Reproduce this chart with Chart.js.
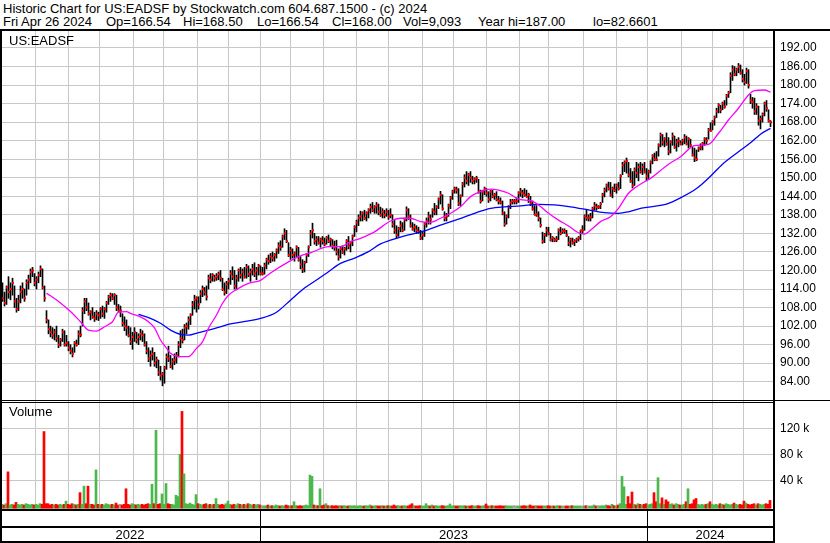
<!DOCTYPE html>
<html>
<head>
<meta charset="utf-8">
<script src="https://cdn.jsdelivr.net/npm/chart.js@4"></script>
<style>
body { margin: 0; background: #fff; }
#wrap { position: relative; width: 830px; height: 543px; overflow: hidden; font-family: "Liberation Sans", Arial, sans-serif; color: #000; }
.t { position: absolute; white-space: pre; font-size: 13px; line-height: 14px; }
.ln { position: absolute; background: #000; }
canvas { position: absolute; left: 0; }
</style>
</head>
<body>
<div id="wrap">
  <div class="t" style="left:3px;top:2px">Historic Chart for US:EADSF by Stockwatch.com 604.687.1500 - (c) 2024</div>
  <div class="t" style="left:3px;top:15px">Fri Apr 26 2024</div>
  <div class="t" style="left:106px;top:15px">Op=166.54</div>
  <div class="t" style="left:183px;top:15px">Hi=168.50</div>
  <div class="t" style="left:257px;top:15px">Lo=166.54</div>
  <div class="t" style="left:332px;top:15px">Cl=168.00</div>
  <div class="t" style="left:403px;top:15px">Vol=9,093</div>
  <div class="t" style="left:478px;top:15px">Year hi=187.00</div>
  <div class="t" style="left:593px;top:15px">lo=82.6601</div>

  <canvas id="price" width="830" height="369" style="top:31px"></canvas>
  <canvas id="volume" width="830" height="142" style="top:401px"></canvas>

  <div class="t" style="left:9px;top:34px">US:EADSF</div>
  <div class="t" style="left:9px;top:405px">Volume</div>

  <div class="ln" style="left:0;top:29px;width:830px;height:2px"></div>
  <div class="ln" style="left:0;top:29px;width:2px;height:514px"></div>
  <div class="ln" style="left:773px;top:29px;width:2px;height:514px"></div>
  <div class="ln" style="left:0;top:400px;width:830px;height:1px"></div>
  <div class="ln" style="left:0;top:402px;width:775px;height:1px"></div>
  <div class="ln" style="left:0;top:509px;width:775px;height:2px"></div>
  <div class="ln" style="left:0;top:526px;width:775px;height:2px"></div>
  <div class="ln" style="left:0;top:541px;width:775px;height:2px"></div>
</div>
<script>
// daily bars (one bar every ~2px)
const hi = [
  116, 113, 115, 118, 116, 117.5, 115, 111, 112, 115,
  116, 114, 117, 118.5, 120.5, 121, 119, 118, 119.5, 121.5,
  120.5, 115, 107, 104, 102, 101.5, 101, 102, 99, 98,
  101, 100.5, 99, 97, 96, 95, 97, 97.5, 100.5, 102,
  108, 111, 111, 109.5, 107, 108, 106.5, 107, 106.5, 108,
  108.5, 108, 110, 112, 112.7, 112.5, 112.5, 112, 109, 108.5,
  106, 105, 104, 102, 101.5, 100, 101.5, 100, 99.5, 101,
  100.5, 99.5, 97, 95, 94, 95, 93.5, 92, 91, 89,
  87, 89, 93, 95.5, 92.5, 91.5, 93, 93.5, 97, 100.5,
  101, 102.5, 103, 105, 106, 110, 112, 111.5, 111.5, 113.5,
  115, 114.5, 115, 118.5, 119, 119, 118.5, 119, 119.5, 120,
  117.5, 116, 116.5, 117.5, 120, 121.2, 120, 118.5, 120.5, 121,
  120.5, 121, 122, 121.5, 120.5, 122, 122.5, 121, 122, 121.5,
  121, 122.4, 124, 125, 125.5, 126, 125.5, 127, 129, 129.6,
  131.5, 133.5, 133, 129, 127.5, 127, 126, 128, 127.5, 124.5,
  123.5, 123, 125.5, 128, 133, 135.3, 132, 131, 131, 130.5,
  131, 130.5, 131, 131.5, 130.5, 130, 129.5, 129.8, 127, 127.5,
  128, 127.5, 130, 131, 129.5, 131.5, 134.5, 136.3, 138, 139.2,
  139, 139.5, 139, 140, 141.5, 142, 141, 142, 141.5, 140.5,
  140, 139.5, 140, 139.5, 140, 138, 136.2, 134.5, 134, 136,
  135.5, 137, 140.6, 140, 138, 135.5, 135, 134.5, 134, 133,
  132.5, 135.5, 137, 138.9, 138, 140, 141.7, 141, 143.5, 145.6,
  144.5, 139, 138.5, 141.5, 144, 146, 147, 147, 146.5, 144.5,
  148.5, 151, 152, 151.5, 152, 150.5, 150, 150.5, 149.5, 146,
  146, 147, 146.5, 145.5, 146, 146, 145, 145.5, 144, 143.5,
  142.5, 139, 138, 141, 143, 143, 143, 143.5, 145.5, 146.6,
  146, 146.5, 146, 145, 144, 142.5, 141, 141, 139, 137,
  132.4, 132, 134, 134, 132, 131, 130.5, 131, 133.5, 134,
  133.5, 133.5, 133, 131, 130.5, 130.5, 130, 130.5, 131, 133,
  134.5, 138, 139.5, 138, 138.5, 140.5, 142, 141.5, 141, 142,
  145, 146.7, 148, 148.6, 148.5, 147, 148, 148, 148.5, 151,
  155, 155.5, 156.4, 155, 153, 152, 153.2, 155, 154.5, 155,
  154.5, 155, 153, 152.5, 155.5, 157.5, 158, 158.5, 161, 164.5,
  164, 163, 164.5, 163, 162, 164.5, 163.5, 162.5, 163, 162,
  162.5, 164, 163.5, 163, 162.5, 160, 159.6, 159, 160, 161,
  161.5, 163, 163, 166, 167.8, 168.5, 170, 172.5, 174, 173.5,
  174.5, 175, 177, 178, 184, 186.3, 186, 185.5, 187, 186.5,
  185, 183.5, 185.5, 185, 177, 176, 175.8, 174, 173.2, 170,
  171, 174.5, 175, 172, 168.5
];
const lo = [
  110, 108.5, 109, 111, 110.5, 112, 108, 106.5, 107, 109.5,
  111, 110, 112, 114, 116, 118, 115, 114, 116, 118,
  114, 110, 103, 99.5, 98.5, 98, 97.5, 97, 95, 95.5,
  97, 95.5, 95.5, 94, 93, 92, 93.5, 95.5, 96, 98.5,
  102, 106, 107, 105.5, 104, 104.5, 103.5, 104, 103.8, 104.5,
  105, 104.5, 106.5, 109, 110, 110.5, 109, 107, 106.5, 105,
  102, 100.5, 99, 98.5, 96, 94.5, 97, 96.5, 96, 97.5,
  97, 95.5, 93, 90.5, 89, 91, 89, 88.5, 86, 84.5,
  82.66, 83.5, 88, 90.5, 88.5, 88, 89.5, 90, 92, 95,
  96.5, 97.5, 99.5, 101, 102.5, 105.5, 107.5, 106.5, 107.5, 109.5,
  111.5, 112, 110.4, 114, 116, 116.5, 116.5, 116.8, 117, 116.5,
  113.5, 112, 112.5, 114, 115.5, 117, 114, 113.7, 116.5, 117.5,
  116.5, 117.5, 117.5, 118, 116.5, 118.5, 118, 117, 118.5, 118.5,
  118.5, 118.8, 120.5, 122, 122.5, 123, 123, 124, 125.5, 126.5,
  127.5, 130, 129, 124.5, 123.6, 124, 123, 124.5, 123, 120.5,
  119.3, 119.5, 122.5, 124.5, 128, 130.5, 128.5, 128, 128.5, 127.5,
  128.5, 128, 128.5, 129, 128, 127, 126.5, 125, 123.3, 124,
  125.5, 125, 126.5, 127, 126, 128, 131, 132.5, 134.5, 136,
  136, 136.5, 136, 137, 138.5, 139, 138.5, 138.5, 138, 137.5,
  137, 137, 137.5, 136.5, 137, 134, 132, 130.5, 131, 132.5,
  132.5, 133, 136, 136.5, 134, 133, 132.5, 132, 132, 130,
  130, 131, 134, 135, 135, 137.2, 138, 138, 140, 141.5,
  139.5, 136, 136, 137.5, 140, 143, 145, 145, 141, 141,
  144, 147, 148, 147.5, 148.5, 148, 148, 148.5, 145, 141.8,
  142.5, 144.5, 144, 142, 142.5, 143.5, 143, 142.5, 141.5, 141.5,
  138, 134.3, 135, 137, 140, 141.5, 141.5, 141.5, 142, 144,
  143.5, 144, 143.7, 142, 141, 139.5, 138, 137.5, 136, 134,
  128.8, 129, 131, 131.5, 129.5, 129.3, 129.3, 129.3, 130, 131.5,
  132, 132, 131, 128, 127.6, 128.5, 128, 129, 129.5, 130,
  132, 133, 136.2, 136, 136, 137, 139.5, 139.5, 140, 140,
  142, 143.8, 145.4, 146, 144, 143.5, 145.5, 145, 146, 146.5,
  151, 152, 151.5, 150.3, 148.5, 146.7, 147.5, 150, 149, 151.5,
  151, 151.5, 149, 149.5, 151.5, 154.5, 155.5, 155.5, 157, 160,
  160.5, 160, 160.5, 157.4, 158, 160.5, 159.5, 158.6, 160, 160.6,
  160.6, 161, 160.6, 159.6, 160, 157, 155.2, 155.5, 158.5, 159,
  159, 160.5, 161, 162.5, 165, 165.5, 167, 169.5, 171, 171,
  172, 172.5, 173.5, 176, 177.5, 181.5, 183, 183, 184, 183.5,
  181, 180, 180.5, 179, 174, 172.5, 170.5, 170.5, 167, 165.8,
  168, 170, 171.5, 168, 166.54
];
const cl = [
  111, 109.5, 114.5, 113, 114, 116, 110, 107.5, 110, 113,
  114, 111, 116, 117, 119.5, 120, 116, 117, 118.5, 120.5,
  114.5, 111, 104, 101, 100, 99, 100, 98, 96, 97.5,
  100, 96, 96.5, 95, 94, 93, 96.5, 96, 99.5, 99.2,
  107, 110, 108, 106, 106.5, 105, 104.5, 106, 105.5, 107.5,
  106, 107.5, 109.5, 111.5, 112, 111, 112, 108, 107, 107,
  103, 102, 101.5, 99, 97, 98.5, 100, 97.5, 98.5, 99.5,
  99, 96, 94, 91.5, 92.5, 93, 90, 91, 87, 86,
  86.5, 88.5, 92, 91.5, 89, 90.5, 91, 92.5, 96, 98,
  97.5, 101.5, 102, 104, 105.5, 109, 110.5, 111, 109, 112.5,
  114, 113, 111.5, 117.5, 117, 118.5, 117.5, 118, 118.8, 117.5,
  114, 113, 115.5, 116.5, 119, 118, 115, 117.5, 120, 118.5,
  119.5, 118, 121, 118.8, 119.5, 120.5, 119, 120, 121.5, 119,
  119, 121.5, 123.5, 123, 124.5, 124, 125, 126.5, 128, 127.5,
  131, 132, 129.5, 125, 126.5, 125, 125.5, 127.5, 123.5, 122,
  120.5, 122.5, 125, 127.5, 132, 133, 129.5, 130, 129, 130,
  129.5, 128.5, 130.5, 129.5, 130, 128, 127.5, 126, 124.5, 127,
  126, 127, 129.5, 128, 129, 131, 134, 135.5, 137, 137.5,
  138.5, 137, 138.5, 139.5, 140.5, 139.5, 140.5, 141, 139, 138,
  139, 138, 139, 137.5, 138, 135, 133, 131.5, 133.5, 134.5,
  133, 136.5, 139.5, 137.5, 134.5, 133.5, 134, 133, 132.5, 130.5,
  131.5, 135, 136, 137.5, 136.5, 139.5, 139, 140.5, 143, 144.5,
  140, 137, 137.5, 141, 143.5, 145.5, 146.5, 146, 141.7, 144,
  148, 150, 149, 151, 150, 149, 149.5, 149.8, 145.5, 142.5,
  145.5, 146.5, 145, 143, 145.5, 144, 144.5, 143, 142.5, 142,
  138.5, 135, 137.5, 140.5, 142, 142.4, 142.4, 142.4, 145, 145.5,
  145, 144.5, 143.8, 144.5, 141.8, 140, 138, 138.2, 137, 134.7,
  129.5, 131.5, 133, 132, 130, 130.5, 129.8, 130, 133, 132,
  132.8, 132.8, 131.5, 129, 130, 129, 129.5, 130, 130.5, 133,
  133, 137.5, 137, 137, 137.2, 140, 141, 140.5, 140.5, 141.5,
  144.5, 146, 147.5, 146.5, 144.5, 146.5, 146, 147.5, 146.5, 150.5,
  154, 155, 155.5, 151, 149, 147.5, 152.5, 151.5, 153.5, 152,
  153.5, 152, 150.5, 152, 155, 157, 156, 155.8, 160.5, 163.8,
  161.5, 162.5, 161, 158.5, 161.5, 163.5, 160, 161.5, 162, 161,
  162, 163, 161, 162.5, 160.5, 157.5, 156.5, 156, 159.5, 159.8,
  161, 162.5, 162, 165.5, 165.2, 168, 169.5, 171.5, 173.5, 172,
  174, 173, 176.5, 177.5, 183, 185, 183.5, 185, 186, 184,
  182, 181, 184.5, 180, 175, 174.5, 171.5, 173, 168.5, 169,
  170.5, 174, 172.5, 168.5, 168
];
// volume in thousands of shares
const volK = [
  3, 2, 4, 53, 2, 3, 2, 6, 3, 2,
  3, 2, 4, 3, 2, 3, 2, 3, 2, 4,
  3, 115, 4, 4, 2, 3, 2, 3, 2, 3,
  2, 3, 8, 3, 2, 4, 3, 2, 3, 21,
  3, 31, 4, 31, 3, 3, 2, 56, 3, 2,
  3, 2, 4, 3, 2, 3, 2, 5, 2, 3,
  2, 3, 27, 3, 2, 4, 3, 2, 3, 2,
  3, 2, 3, 4, 3, 34, 4, 117, 3, 4,
  19, 3, 35, 4, 3, 3, 2, 17, 15, 80,
  146, 50, 4, 3, 5, 3, 2, 18, 4, 3,
  2, 3, 4, 2, 3, 2, 3, 12, 3, 2,
  3, 2, 4, 8, 3, 2, 3, 2, 4, 3,
  2, 3, 2, 4, 3, 2, 3, 2, 3, 2,
  1, 0.5, 1, 2, 0.5, 1, 0.5, 2, 1, 0.5,
  1, 0.5, 2, 1, 0.5, 1, 7, 1, 0.5, 1,
  0.5, 1, 2, 1, 48, 46, 2, 1, 1, 27,
  1, 2, 4, 1, 0.5, 1, 0.5, 1, 0.5, 1,
  0.5, 1, 0.5, 0.5, 1, 0.5, 1, 0.5, 0.5, 1,
  0.5, 0.5, 1, 0.5, 2, 0.5, 0.5, 1, 0.5, 0.5,
  1, 0.5, 0.5, 1, 0.5, 0.5, 2, 0.5, 1, 0.5,
  0.5, 1, 0.5, 0.5, 2, 4, 1, 0.5, 0.5, 1,
  0.5, 0.5, 4, 1, 0.5, 2, 0.5, 1, 0.5, 0.5,
  1, 0.5, 0.5, 1, 3.5, 0.5, 1, 0.5, 0.5, 1,
  0.5, 1, 0.5, 0.5, 0.5, 1, 0.5, 0.5, 1, 0.5,
  0.5, 1, 3.5, 0.5, 0.5, 1, 0.5, 0.5, 0.5, 1,
  0.5, 0.5, 1, 0.5, 0.5, 0.5, 1, 0.5, 0.5, 0.5,
  0.5, 1, 0.5, 0.5, 2, 0.5, 0.5, 1, 0.5, 0.5,
  0.5, 0.5, 0.5, 1, 0.5, 0.5, 0.5, 0.5, 1, 0.5,
  0.5, 0.5, 0.5, 0.5, 0.5, 1, 0.5, 0.5, 0.5, 0.5,
  0.5, 0.5, 1, 0.5, 0.5, 0.5, 2, 0.5, 1, 0.5,
  1, 0.5, 2, 1, 0.5, 3, 1, 0.5, 2, 4,
  46, 30, 3, 15, 4, 22, 3, 2, 4, 3,
  2, 3, 4, 2, 3, 4, 21, 7, 44, 4,
  13, 3, 10, 7, 3, 4, 2, 4, 3, 2,
  2, 3, 7, 27, 3, 4, 10, 12, 3, 2,
  3, 2, 3, 4, 7, 3, 2, 3, 2, 4,
  3, 2, 4, 3, 2, 3, 5, 3, 2, 3,
  2, 8, 5, 3, 2, 3, 4, 2, 4, 3,
  2, 3, 4, 3, 9.093
];

// moving averages, read at bar positions
const pinkAt = [22, 24, 29, 34, 39, 43, 47, 51, 55, 58, 62, 64, 69, 73, 76, 79, 82, 84, 88, 93,
  97, 100, 103, 107, 110, 113, 118, 123, 129, 134, 143, 149, 154, 163, 169, 174, 179, 186, 194, 199,
  204, 209, 214, 219, 224, 229, 234, 238, 244, 248, 253, 257, 259, 264, 268, 273, 278, 283, 288, 291,
  295, 299, 304, 308, 313, 317, 321, 324, 333, 339, 346, 353, 358, 363, 368, 373, 376, 381, 384];
const pinkMA = [112.6, 111.8, 109.5, 106.7, 103.4, 100.7, 100.4, 101.8, 103.4, 106.5, 106.7, 106.1, 105, 103.4, 101.4, 97.5, 94.9, 93.2, 92.1, 92.1,
  94.8, 96.9, 101.3, 105.6, 109.4, 112, 114.2, 115.8, 116.8, 119.2, 122.8, 124.7, 125.7, 127.7, 127.7, 129.3, 130.4, 132.5, 136, 136.9,
  136.9, 135.8, 135.6, 136.9, 138.5, 140.6, 143.9, 145.3, 146.3, 146, 145, 143.4, 142.9, 142.6, 141.2, 138.5, 136.3, 134.4, 132.2, 131.8,
  133.6, 135.8, 137.4, 140.1, 145, 147.1, 148.7, 149.8, 154.4, 156.8, 160.4, 160.8, 164.4, 168.7, 172.5, 176.8, 178.2, 178.4, 177.7];
const blueAt = [68, 74, 79, 84, 89, 93, 98, 103, 108, 114, 123, 129, 137, 144, 151, 157, 163, 169, 176, 183,
  189, 194, 203, 211, 219, 228, 236, 244, 251, 259, 268, 276, 284, 293, 301, 308, 313, 319, 324, 332,
  339, 347, 354, 360, 368, 374, 379, 384];
const blueMA = [105.8, 104.5, 102.9, 100.7, 99.3, 99.1, 99.9, 100.7, 101.6, 102.7, 103.7, 104.5, 106.5, 110.4, 114.3, 116.9, 119.6, 122.3, 124, 126.1,
  128.6, 129.8, 131.5, 132.8, 134.7, 136.6, 138.5, 140.1, 140.6, 140.9, 141.4, 141.2, 140.6, 139.6, 138.7, 138.5, 139, 140.1, 140.6, 141.5,
  143.5, 146.5, 150.5, 154.4, 158.4, 161.3, 164.1, 166];

// axis ticks
const priceTicks = [84, 90, 96, 102, 108, 114, 120, 126, 132, 138, 144, 150, 156, 162, 168, 174, 180, 186, 192];
const volTicks = [40, 80, 120];
const monthStarts = [16.5, 33, 48.5, 65.5, 80.5, 97.5, 113, 129, 144, 160.5, 177, 193, 210, 225.5, 242, 258.5, 273, 290.5, 307, 322.5, 339.5, 355, 370.5];
const years = ['2022', '2023', '2024'];
const yearStarts = [129, 322.5];

Chart.defaults.font.family = "'Liberation Sans', Arial, sans-serif";
Chart.defaults.color = '#000';

const gridColor = '#c8c8c8';
const axisW = 57;

function xScale(min, max) {
  return {
    type: 'linear', min: min, max: max, offset: false,
    grid: { color: gridColor, drawTicks: false, offset: false },
    border: { display: false },
    ticks: { display: false },
    afterBuildTicks: s => { s.ticks = monthStarts.map(v => ({ value: v })); },
    afterFit: s => { s.height = 0; s.paddingLeft = 0; s.paddingRight = 0; }
  };
}

function yFit(s) {
  s.width = axisW;
  s.paddingTop = 0;
  s.paddingBottom = 0;
}

const priceChart = new Chart(document.getElementById('price'), {
  type: 'bar',
  data: {
    datasets: [
      {
        type: 'line', data: pinkAt.map((x, k) => ({ x: x, y: pinkMA[k] })),
        borderColor: '#ff00ff', borderWidth: 1.3, pointRadius: 0, pointHoverRadius: 0, cubicInterpolationMode: 'monotone', order: 1
      },
      {
        type: 'line', data: blueAt.map((x, k) => ({ x: x, y: blueMA[k] })),
        borderColor: '#0000ff', borderWidth: 1.3, pointRadius: 0, pointHoverRadius: 0, cubicInterpolationMode: 'monotone', order: 1
      },
      {
        type: 'line', data: cl.map((c, i) => ({ x: i + 0.25, y: c })),
        showLine: false, pointStyle: 'rect', pointRadius: 1.45, pointHoverRadius: 0, pointBorderWidth: 0,
        pointBackgroundColor: '#ff0000', order: 2
      },
      {
        type: 'bar', data: hi.map((h, i) => ({ x: i, y: [lo[i], h] })),
        backgroundColor: '#000', barThickness: 1, order: 3
      }
    ]
  },
  options: {
    responsive: false, animation: false, devicePixelRatio: 1,
    layout: { padding: 0, autoPadding: false },
    plugins: { legend: { display: false }, tooltip: { enabled: false } },
    scales: {
      x: xScale(-1.25, 385.25),
      y: {
        position: 'right', min: 78.08, max: 197.5,
        grid: { color: gridColor, drawTicks: false },
        border: { display: false },
        afterBuildTicks: s => { s.ticks = priceTicks.map(v => ({ value: v })); },
        afterFit: yFit,
        ticks: { padding: 7, font: { size: 12 }, callback: v => v.toFixed(2) }
      }
    }
  }
});

const volColors = cl.map((c, i) => i === 0 || c > cl[i - 1] ? '#4cb84c' : (c < cl[i - 1] ? '#ff0000' : '#a0a0a0'));

const volChart = new Chart(document.getElementById('volume'), {
  type: 'bar',
  data: {
    datasets: [{
      data: volK.map((v, i) => ({ x: i, y: v })),
      backgroundColor: volColors, barThickness: 2, base: -3
    }]
  },
  options: {
    responsive: false, animation: false, devicePixelRatio: 1,
    layout: { padding: { bottom: 33 }, autoPadding: false },
    plugins: { legend: { display: false }, tooltip: { enabled: false } },
    scales: {
      x: xScale(-1, 385.5),
      y: {
        position: 'right', min: -5.7, max: 162,
        grid: { color: gridColor, drawTicks: false },
        border: { display: false },
        afterBuildTicks: s => { s.ticks = volTicks.map(v => ({ value: v })); },
        afterFit: yFit,
        ticks: { padding: 7, font: { size: 12 }, callback: v => v + ' k' }
      }
    }
  }
});

// year strip under the volume panel, placed from the chart's own x scale
const wrap = document.getElementById('wrap');
const xs = volChart.scales.x;
yearStarts.forEach(v => {
  const d = document.createElement('div');
  d.className = 'ln';
  d.style.cssText = `left:${Math.round(xs.getPixelForValue(v))}px;top:509px;width:1px;height:34px`;
  wrap.appendChild(d);
});
years.forEach((y, k) => {
  const a = k ? xs.getPixelForValue(yearStarts[k - 1]) : 0;
  const b = k < yearStarts.length ? xs.getPixelForValue(yearStarts[k]) : 773;
  const d = document.createElement('div');
  d.className = 't';
  d.textContent = y;
  d.style.cssText = `left:${(a + b) / 2 - 15}px;top:528px;width:30px;text-align:center`;
  wrap.appendChild(d);
});
</script>
</body>
</html>
